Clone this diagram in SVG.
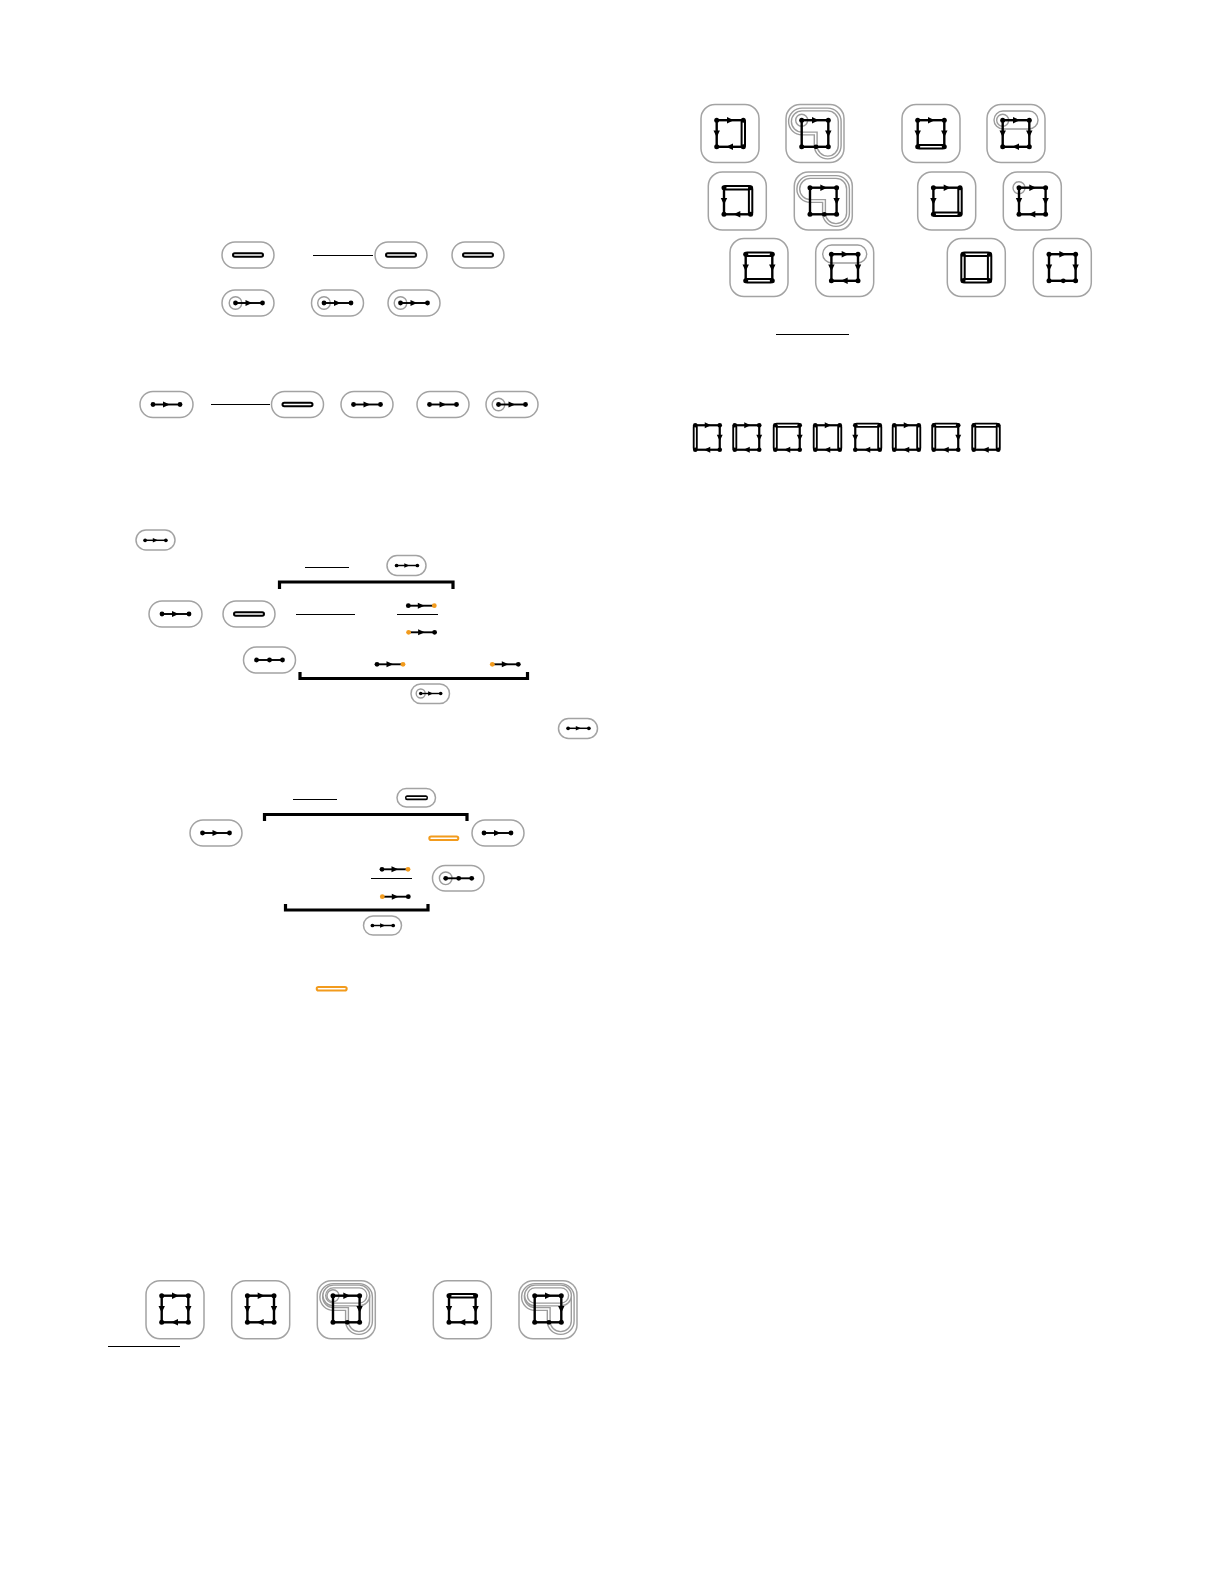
<svg xmlns="http://www.w3.org/2000/svg" width="1225" height="1585" viewBox="0 0 1225 1585">
<style>
.pill{fill:#fff;stroke:#a3a3a3;stroke-width:1.5}
.box{fill:#fff;stroke:#a3a3a3;stroke-width:1.5}
.e{stroke:#000;stroke-width:2.4;fill:none}
.s{stroke:#000;stroke-width:1.9;fill:none}
.k{fill:#000}
.o{fill:#f29b1d}
.d{fill:#fff;stroke:#000;stroke-width:2}
.od{fill:#fff;stroke:#f29b1d;stroke-width:2}
.g{fill:none;stroke:#9c9c9c;stroke-width:1.4}
.gd{fill:none;stroke:#9c9c9c;stroke-width:4.2}
.gw{fill:none;stroke:#fff;stroke-width:1.4}
.rule{stroke:#000;stroke-width:1.2}
.brk{fill:none;stroke:#000;stroke-width:3.2}
</style>
<defs>
<rect id="dbl" x="-15" y="-1.8" width="30" height="3.6" rx="1.8" class="d"/>
<g id="seg"><line x1="-13.5" y1="0" x2="13.5" y2="0" class="s"/><circle cx="-13.5" r="2.4" class="k"/><circle cx="13.5" r="2.4" class="k"/><path d="M-3.5,-3 L3.2,0 L-3.5,3Z" class="k"/></g>
<g id="segD"><line x1="-13" y1="0" x2="13" y2="0" class="s"/><circle cx="-13" r="2.4" class="k"/><circle cx="13" r="2.4" class="k"/><circle cx="0" r="2.4" class="k"/></g>
<g id="segOR"><line x1="-13" y1="0" x2="13" y2="0" class="s"/><circle cx="-13" r="2.4" class="k"/><circle cx="13" r="2.4" class="o"/><path d="M-3.5,-3 L3.2,0 L-3.5,3Z" class="k"/></g>
<g id="segOL"><line x1="-13" y1="0" x2="13" y2="0" class="s"/><circle cx="-13" r="2.4" class="o"/><circle cx="13" r="2.4" class="k"/><path d="M-3.5,-3 L3.2,0 L-3.5,3Z" class="k"/></g>
<circle id="ring" r="6.3" class="g"/>
<g id="tA"><line x1="-13.3" y1="-13.3" x2="13.3" y2="-13.3" class="e"/><path d="M-3,-16.5 L3.8,-13.3 L-3,-10.1Z" class="k"/></g>
<g id="lA"><line x1="-13.3" y1="-13.3" x2="-13.3" y2="13.3" class="e"/><path d="M-16.5,-3 L-13.3,3.8 L-10.1,-3Z" class="k"/></g>
<g id="rA"><line x1="13.3" y1="-13.3" x2="13.3" y2="13.3" class="e"/><path d="M10.1,-3 L13.3,3.8 L16.5,-3Z" class="k"/></g>
<g id="bA"><line x1="-13.3" y1="13.3" x2="13.3" y2="13.3" class="e"/><path d="M3,10.1 L-3.8,13.3 L3,16.5Z" class="k"/></g>
<line id="lP" x1="-13.3" y1="-13.3" x2="-13.3" y2="13.3" class="e"/>
<g id="bP"><line x1="-13.3" y1="13.3" x2="13.3" y2="13.3" class="e"/><circle cx="1" cy="13.3" r="2.4" class="k"/></g>
<rect id="tD" x="-13.3" y="-15" width="26.6" height="3.4" rx="1.5" class="d"/>
<rect id="bD" x="-13.3" y="11.6" width="26.6" height="3.4" rx="1.5" class="d"/>
<rect id="lD" x="-15" y="-13.3" width="3.4" height="26.6" rx="1.5" class="d"/>
<rect id="rD" x="11.6" y="-13.3" width="3.4" height="26.6" rx="1.5" class="d"/>
<g id="cn"><circle cx="-13.3" cy="-13.3" r="2.5" class="k"/><circle cx="13.3" cy="-13.3" r="2.5" class="k"/><circle cx="-13.3" cy="13.3" r="2.5" class="k"/><circle cx="13.3" cy="13.3" r="2.5" class="k"/></g>
<circle id="rTL" cx="-13.3" cy="-13.3" r="6" class="g"/>
<rect id="pT" x="-22" y="-22.5" width="44" height="18" rx="9" class="g"/>
<path id="loopP" d="M-13,0 H0.7 V12 A12,12 0 0 0 12.7,24 A12,12 0 0 0 24.7,12 V-12 A12,12 0 0 0 12.7,-24 H-13 A12,12 0 0 0 -25,-12 A12,12 0 0 0 -13,0 Z"/>
<g id="loop"><use href="#loopP" class="gd"/><use href="#loopP" class="gw"/></g>
<g id="pTd"><rect x="-22" y="-22.5" width="44" height="18" rx="9" class="gd"/><rect x="-22" y="-22.5" width="44" height="18" rx="9" class="gw"/></g>
</defs>

<g id="connectors">
<line x1="313" y1="255.5" x2="373" y2="255.5" class="rule"/>
<line x1="211" y1="404.5" x2="270" y2="404.5" class="rule"/>
<line x1="305" y1="567.5" x2="349" y2="567.5" class="rule"/>
<polyline points="279.5,589 279.5,582 453,582 453,589" class="brk"/>
<line x1="296" y1="614.5" x2="355" y2="614.5" class="rule"/>
<line x1="397" y1="614.5" x2="438" y2="614.5" class="rule"/>
<polyline points="300,672 300,678.5 527.5,678.5 527.5,672" class="brk"/>
<line x1="293" y1="799.5" x2="337" y2="799.5" class="rule"/>
<polyline points="264.5,821 264.5,814.5 467,814.5 467,821" class="brk"/>
<line x1="371" y1="878.5" x2="412" y2="878.5" class="rule"/>
<polyline points="285.5,904 285.5,910 428,910 428,904" class="brk"/>
<line x1="776" y1="334.5" x2="849" y2="334.5" class="rule"/>
<line x1="108" y1="1346.5" x2="180" y2="1346.5" class="rule"/>
</g>

<g id="n1"><rect class="pill" x="222" y="242" width="52" height="26" rx="13"/><use href="#dbl" transform="translate(248,255)"/></g>
<g id="n2"><rect class="pill" x="375" y="242" width="52" height="26" rx="13"/><use href="#dbl" transform="translate(401,255)"/></g>
<g id="n3"><rect class="pill" x="452" y="242" width="52" height="26" rx="13"/><use href="#dbl" transform="translate(478,255)"/></g>

<g id="n4"><rect class="pill" x="222" y="290" width="52" height="26" rx="13"/><use href="#ring" transform="translate(235.5,303)"/><use href="#seg" transform="translate(249,303)"/></g>
<g id="n5"><rect class="pill" x="311.5" y="290" width="52" height="26" rx="13"/><use href="#ring" transform="translate(324,303)"/><use href="#seg" transform="translate(337.5,303)"/></g>
<g id="n6"><rect class="pill" x="388" y="290" width="52" height="26" rx="13"/><use href="#ring" transform="translate(400.5,303)"/><use href="#seg" transform="translate(414,303)"/></g>

<g id="n7"><rect class="pill" x="140" y="391.5" width="53" height="26" rx="13"/><use href="#seg" transform="translate(166.5,404.5)"/></g>
<g id="n8"><rect class="pill" x="271.5" y="391.5" width="52" height="26" rx="13"/><use href="#dbl" transform="translate(297.5,404.5)"/></g>
<g id="n9"><rect class="pill" x="341" y="391.5" width="52" height="26" rx="13"/><use href="#seg" transform="translate(367,404.5)"/></g>
<g id="n10"><rect class="pill" x="417" y="391.5" width="52" height="26" rx="13"/><use href="#seg" transform="translate(443,404.5)"/></g>
<g id="n11"><rect class="pill" x="486" y="391.5" width="52" height="26" rx="13"/><use href="#ring" transform="translate(498.5,404.5)"/><use href="#seg" transform="translate(512,404.5)"/></g>

<g id="n12"><rect class="pill" x="136" y="530" width="39" height="20" rx="10"/><use href="#seg" transform="translate(155.5,540.3) scale(0.77)"/></g>
<g id="n13"><rect class="pill" x="387" y="555.5" width="39" height="20" rx="10"/><use href="#seg" transform="translate(407,565.5) scale(0.77)"/></g>

<g id="n14"><rect class="pill" x="149" y="601" width="53" height="26" rx="13"/><use href="#seg" transform="translate(175.5,614)"/></g>
<g id="n15"><rect class="pill" x="223" y="601" width="52" height="26" rx="13"/><use href="#dbl" transform="translate(249,614)"/></g>
<g id="n16"><use href="#segOR" transform="translate(421.3,605.7)"/></g>
<g id="n17"><use href="#segOL" transform="translate(421.6,632.3)"/></g>

<g id="n18"><rect class="pill" x="243.5" y="647" width="52" height="26" rx="13"/><use href="#segD" transform="translate(269.5,660)"/></g>
<g id="n19"><use href="#segOR" transform="translate(390,664.3)"/></g>
<g id="n20"><use href="#segOL" transform="translate(505.3,664.3)"/></g>
<g id="n21"><rect class="pill" x="411" y="684" width="38.5" height="19.5" rx="9.7"/><circle cx="420.7" cy="693.5" r="4.5" class="g"/><use href="#seg" transform="translate(430.7,693.5) scale(0.74)"/></g>
<g id="n22"><rect class="pill" x="558.5" y="718.5" width="39" height="20" rx="10"/><use href="#seg" transform="translate(578.5,728.3) scale(0.77)"/></g>

<g id="n23"><rect class="pill" x="397" y="788.5" width="38.5" height="18.5" rx="9.2"/><use href="#dbl" transform="translate(416.5,797.7) scale(0.72,0.9)"/></g>
<g id="n24"><rect class="pill" x="190" y="820" width="52" height="26" rx="13"/><use href="#seg" transform="translate(216,833)"/></g>
<g id="n25"><rect class="od" x="429.3" y="836.5" width="29" height="3.6" rx="1.8"/></g>
<g id="n26"><rect class="pill" x="472" y="820" width="52" height="26" rx="13"/><use href="#seg" transform="translate(497.5,833)"/></g>
<g id="n27"><use href="#segOR" transform="translate(395,869.3)"/></g>
<g id="n28"><use href="#segOL" transform="translate(395.3,896.7)"/></g>
<g id="n29"><rect class="pill" x="432.5" y="865.5" width="51.5" height="25.5" rx="12.7"/><use href="#ring" transform="translate(445.7,878.3)"/><use href="#segD" transform="translate(458.7,878.3)"/></g>
<g id="n30"><rect class="pill" x="363.5" y="916" width="38" height="19" rx="9.5"/><use href="#seg" transform="translate(382.8,925.5) scale(0.77)"/></g>
<g id="n31"><rect class="od" x="316.7" y="987" width="30" height="3.6" rx="1.8"/></g>

<g id="b1"><rect class="box" x="146" y="1280.7" width="58" height="58" rx="14"/><g transform="translate(175,1309)"><use href="#tA"/><use href="#lA"/><use href="#rA"/><use href="#bA"/><use href="#cn"/></g></g>
<g id="b2"><rect class="box" x="231.7" y="1280.7" width="58" height="58" rx="14"/><g transform="translate(260.7,1309)"><use href="#tA"/><use href="#lA"/><use href="#rA"/><use href="#bA"/><use href="#cn"/></g></g>
<g id="b3"><rect class="box" x="317.3" y="1280.7" width="58" height="58" rx="14"/><g transform="translate(346.3,1309)"><use href="#loop"/><use href="#pTd"/><use href="#rTL"/><use href="#tA"/><use href="#lP"/><use href="#rA"/><use href="#bP"/><use href="#cn"/></g></g>
<g id="b4"><rect class="box" x="433.3" y="1280.7" width="58" height="58" rx="14"/><g transform="translate(462.3,1309)"><use href="#lA"/><use href="#rA"/><use href="#bA"/><use href="#tD"/><use href="#cn"/></g></g>
<g id="b5"><rect class="box" x="519" y="1280.7" width="58" height="58" rx="14"/><g transform="translate(548,1309)"><use href="#loop"/><use href="#pTd"/><use href="#tA"/><use href="#lP"/><use href="#rA"/><use href="#bP"/><use href="#cn"/></g></g>

<g id="r1b1"><rect class="box" x="701" y="104.5" width="58" height="58" rx="14"/><g transform="translate(730,133.5)"><use href="#tA"/><use href="#lA"/><use href="#bA"/><use href="#rD"/><use href="#cn"/></g></g>
<g id="r1b2"><rect class="box" x="786" y="104.5" width="58" height="58" rx="14"/><g transform="translate(815,133.5)"><use href="#loop"/><use href="#rTL"/><use href="#tA"/><use href="#lP"/><use href="#rA"/><use href="#bP"/><use href="#cn"/></g></g>
<g id="r1b3"><rect class="box" x="902" y="104.5" width="58" height="58" rx="14"/><g transform="translate(931,133.5)"><use href="#tA"/><use href="#lA"/><use href="#rA"/><use href="#bD"/><use href="#cn"/></g></g>
<g id="r1b4"><rect class="box" x="987" y="104.5" width="58" height="58" rx="14"/><g transform="translate(1016,133.5)"><use href="#pT"/><use href="#rTL"/><use href="#tA"/><use href="#lA"/><use href="#rA"/><use href="#bA"/><use href="#cn"/></g></g>

<g id="r2b1"><rect class="box" x="708.3" y="172" width="58" height="58" rx="14"/><g transform="translate(737.3,201)"><use href="#lA"/><use href="#bA"/><use href="#tD"/><use href="#rD"/><use href="#cn"/></g></g>
<g id="r2b2"><rect class="box" x="794.3" y="172" width="58" height="58" rx="14"/><g transform="translate(823.3,201)"><use href="#loop"/><use href="#tA"/><use href="#lP"/><use href="#rA"/><use href="#bP"/><use href="#cn"/></g></g>
<g id="r2b3"><rect class="box" x="917.7" y="172" width="58" height="58" rx="14"/><g transform="translate(946.7,201)"><use href="#tA"/><use href="#lA"/><use href="#rD"/><use href="#bD"/><use href="#cn"/></g></g>
<g id="r2b4"><rect class="box" x="1003.3" y="172" width="58" height="58" rx="14"/><g transform="translate(1032.3,201)"><use href="#rTL"/><use href="#tA"/><use href="#lA"/><use href="#rA"/><use href="#bA"/><use href="#cn"/></g></g>

<g id="r3b1"><rect class="box" x="730" y="238.5" width="58" height="58" rx="14"/><g transform="translate(759,267.5)"><use href="#lA"/><use href="#rA"/><use href="#tD"/><use href="#bD"/><use href="#cn"/></g></g>
<g id="r3b2"><rect class="box" x="815.7" y="238.5" width="58" height="58" rx="14"/><g transform="translate(844.7,267.5)"><use href="#pT"/><use href="#tA"/><use href="#lA"/><use href="#rA"/><use href="#bA"/><use href="#cn"/></g></g>
<g id="r3b3"><rect class="box" x="947.3" y="238.5" width="58" height="58" rx="14"/><g transform="translate(976.3,267.5)"><use href="#tD"/><use href="#lD"/><use href="#rD"/><use href="#bD"/><use href="#cn"/></g></g>
<g id="r3b4"><rect class="box" x="1033.3" y="238.5" width="58" height="58" rx="14"/><g transform="translate(1062.3,267.5)"><use href="#tA"/><use href="#lA"/><use href="#rA"/><use href="#bP"/><use href="#cn"/></g></g>

<g id="q1" transform="translate(707.5,437.5) scale(0.92)"><use href="#tA"/><use href="#rA"/><use href="#bA"/><use href="#lD"/><use href="#cn"/></g>
<g id="q2" transform="translate(747,437.5) scale(0.92)"><use href="#tA"/><use href="#rA"/><use href="#bA"/><use href="#lD"/><use href="#cn"/></g>
<g id="q3" transform="translate(787.5,437.5) scale(0.92)"><use href="#rA"/><use href="#bA"/><use href="#tD"/><use href="#lD"/><use href="#cn"/></g>
<g id="q4" transform="translate(827.5,437.5) scale(0.92)"><use href="#tA"/><use href="#bA"/><use href="#lD"/><use href="#rD"/><use href="#cn"/></g>
<g id="q5" transform="translate(867.5,437.5) scale(0.92)"><use href="#lA"/><use href="#bA"/><use href="#tD"/><use href="#rD"/><use href="#cn"/></g>
<g id="q6" transform="translate(906.5,437.5) scale(0.92)"><use href="#tA"/><use href="#bA"/><use href="#lD"/><use href="#rD"/><use href="#cn"/></g>
<g id="q7" transform="translate(946,437.5) scale(0.92)"><use href="#rA"/><use href="#bA"/><use href="#tD"/><use href="#lD"/><use href="#cn"/></g>
<g id="q8" transform="translate(986,437.5) scale(0.92)"><use href="#bA"/><use href="#tD"/><use href="#lD"/><use href="#rD"/><use href="#cn"/></g>
</svg>
